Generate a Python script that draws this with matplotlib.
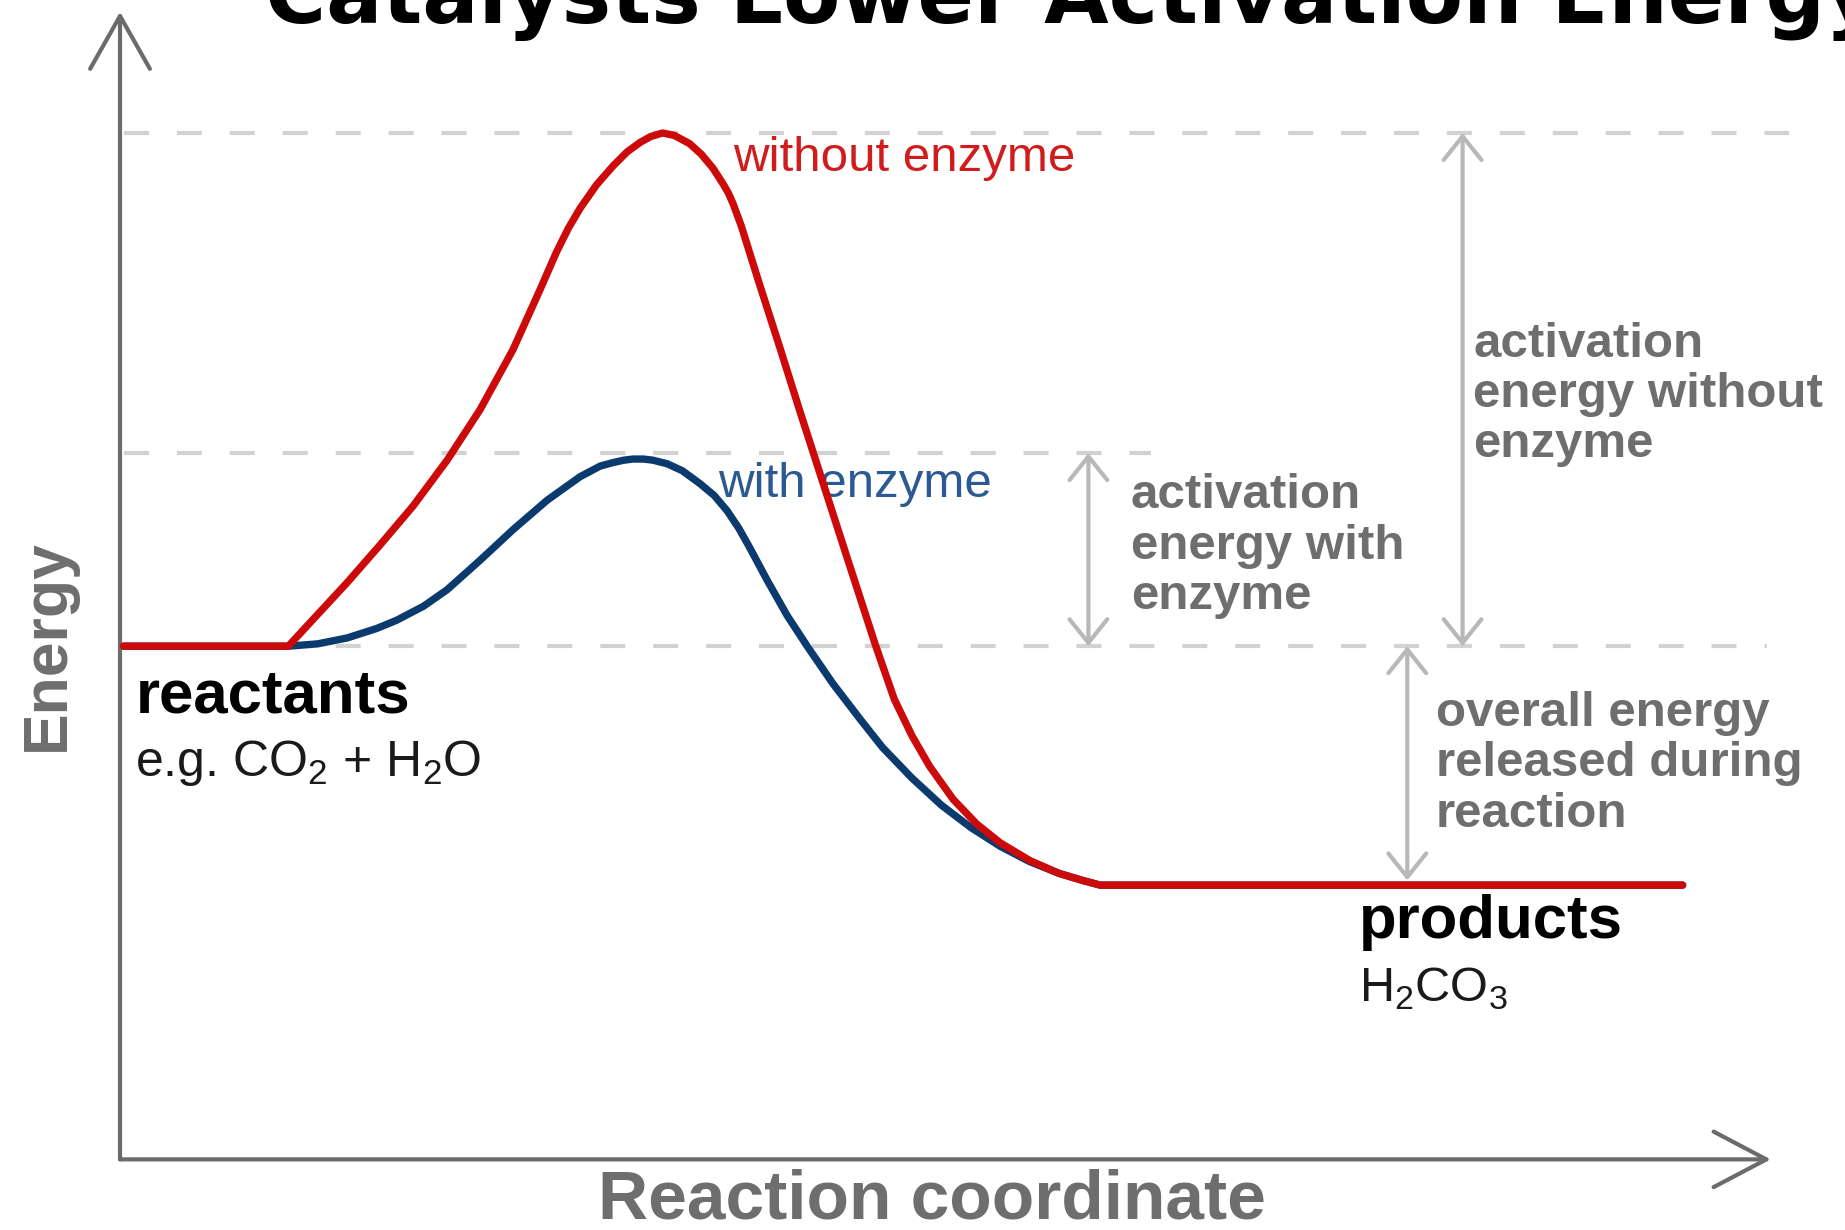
import matplotlib
matplotlib.use("Agg")
import matplotlib.pyplot as plt

plt.rcParams['font.family'] = ['Liberation Sans', 'DejaVu Sans']
plt.rcParams['mathtext.fontset'] = 'custom'
plt.rcParams['mathtext.rm'] = 'Liberation Sans'

# energy profiles (reaction coordinate, energy; arbitrary units)
x_without = [3, 143, 168, 193, 221, 249, 278, 306, 334, 357, 371, 381, 391, 405, 419, 431, 442, 451, 461,
             471, 484, 494, 504, 513, 517, 521, 528, 543, 561, 578, 598, 618, 642, 658, 673, 688, 708,
             728, 748, 773, 798, 818, 833, 1328]
e_without = [436, 436, 463, 490, 522, 555, 594, 637, 688, 739, 771, 791, 808, 828, 844, 856, 864, 869, 872,
             870, 863, 854, 842, 828, 821, 812, 793, 745, 689, 635, 573, 511, 437, 391, 360, 334, 306,
             285, 269, 254, 243, 237, 233, 233]

x_with = [3, 143, 168, 193, 218, 235, 258, 278, 306, 334, 363, 391, 408, 419, 428, 436, 445, 453, 465,
          478, 493, 505, 516, 526, 535, 550, 567, 584, 606, 629, 648, 673, 698, 723, 748, 773, 798,
          818, 833, 1328]
e_with = [436, 436, 438, 443, 451, 458, 470, 484, 509, 535, 560, 580, 589, 592, 594, 595, 595, 594, 591,
          585, 574, 564, 551, 536, 520, 492, 462, 436, 404, 374, 350, 324, 301, 282, 266, 253, 243,
          237, 233, 233]

reactant_level = 436
product_level = 233
peak_with = 600
peak_without = 872

red = '#cc0a0a'
blue = '#0b3a6e'
grey_txt = '#6e6e6e'
grey_arrow = '#b8b8b8'
dash_col = '#d2d2d2'
axis_col = '#6b6b6b'

fig = plt.figure(figsize=(18.45, 12.30), dpi=100)
ax = fig.add_axes([0, 0, 1, 1])
ax.set_xlim(-102, 1466)
ax.set_ylim(-60, 985)
ax.axis('off')

# dashed reference levels
dash = (0, (6, 6.7))
ax.plot([3, 1418], [peak_without] * 2, color=dash_col, lw=3, ls=dash, zorder=1)
ax.plot([3, 876], [peak_with] * 2, color=dash_col, lw=3, ls=dash, zorder=1)
ax.plot([3, 1400], [reactant_level] * 2, color=dash_col, lw=3, ls=dash, zorder=1)

# the two reaction paths
ax.plot(x_with, e_with, color=blue, lw=5.3, solid_capstyle='round', solid_joinstyle='round', zorder=3)
ax.plot(x_without, e_without, color=red, lw=5.3, solid_capstyle='round', solid_joinstyle='round', zorder=4)

# axes drawn as arrows
ax.annotate('', xy=(0, 975), xytext=(0, 0),
            arrowprops=dict(arrowstyle='->, head_length=0.76, head_width=0.43', lw=3,
                            color=axis_col, shrinkA=0, shrinkB=0, mutation_scale=50))
ax.annotate('', xy=(1403, 0), xytext=(0, 0),
            arrowprops=dict(arrowstyle='->, head_length=0.76, head_width=0.40', lw=3,
                            color=axis_col, shrinkA=0, shrinkB=0, mutation_scale=50))


def dbl_arrow(x, y0, y1):
    ax.annotate('', xy=(x, y1), xytext=(x, y0),
                arrowprops=dict(arrowstyle='<->, head_length=0.85, head_width=0.68', lw=3,
                                color=grey_arrow, shrinkA=0, shrinkB=0, mutation_scale=20),
                zorder=2)


dbl_arrow(823, reactant_level, peak_with)
dbl_arrow(1141, reactant_level, peak_without)
dbl_arrow(1094, product_level + 4, reactant_level)

# labels
ax.text(521, 850, 'without enzyme', color='#d01c1c', fontsize=35.5, va='center', ha='left')
ax.text(508, 573, 'with enzyme', color='#2b5a92', fontsize=35.5, va='center', ha='left')

ax.text(859, 521, 'activation\nenergy with\nenzyme', color=grey_txt, fontsize=35.5,
        fontweight='bold', va='center', ha='left', linespacing=1.15)
ax.text(1150, 650, 'activation\nenergy without\nenzyme', color=grey_txt, fontsize=35.5,
        fontweight='bold', va='center', ha='left', linespacing=1.15)
ax.text(1118, 336, 'overall energy\nreleased during\nreaction', color=grey_txt, fontsize=35.5,
        fontweight='bold', va='center', ha='left', linespacing=1.15)

ax.text(13, 393, 'reactants', color='black', fontsize=44.5, fontweight='bold', va='center', ha='left')
ax.text(13, 337, r'e.g. CO$_\mathregular{2}$ + H$_\mathregular{2}$O', color='#1a1a1a', fontsize=36,
        va='center', ha='left')
ax.text(1053, 201, 'products', color='black', fontsize=44.5, fontweight='bold', va='center', ha='left')
ax.text(1053, 145, r'H$_\mathregular{2}$CO$_\mathregular{3}$', color='#1a1a1a', fontsize=35,
        va='center', ha='left')

ax.text(-62, 437, 'Energy', color=grey_txt, fontsize=45, fontweight='bold', rotation=90,
        va='center', ha='center')
ax.text(690, -35, 'Reaction coordinate', color=grey_txt, fontsize=50, fontweight='bold',
        va='center', ha='center')

# title, cut off at the top edge as in the source image
fig.text(0.1436, 0.9813, 'Catalysts Lower Activation Energy', color='black', fontsize=60,
         fontweight='bold', family='DejaVu Sans', va='baseline', ha='left')

fig.savefig('out.png', dpi=100)
